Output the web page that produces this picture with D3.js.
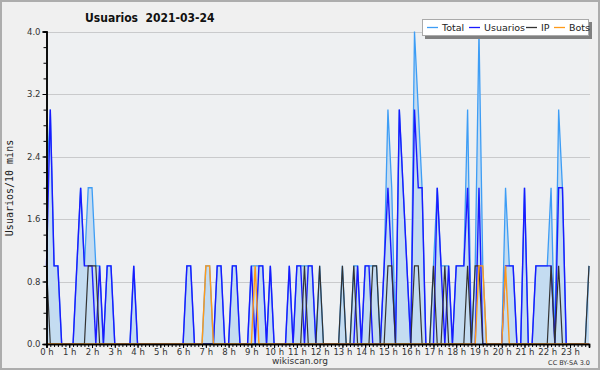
<!DOCTYPE html>
<html>
<head>
<meta charset="utf-8">
<script src="https://cdn.jsdelivr.net/npm/d3@7"></script>
<style>
  body { margin: 0; background: #f0f0f0; }
  svg { display: block; }
  text { font-family: "DejaVu Sans", sans-serif; }
</style>
</head>
<body>
<svg id="chart" width="600" height="370"></svg>
<script>
// 10-minute slots, 144 per day (rows of 12 = 2 hours)
const total = [
  2,3,1,1,0,0,0,0,1,2,1,2,
  2,1,1,0,1,1,0,0,0,0,0,1,
  0,0,0,0,0,0,0,0,0,0,0,0,
  0,1,1,0,0,0,1,1,0,1,1,0,
  0,1,1,0,0,0,1,1,1,1,0,1,
  0,0,0,0,1,0,1,1,1,1,1,0,
  1,0,0,0,0,0,1,0,0,1,1,0,
  1,1,1,1,0,1,3,2,0,3,2,1,
  0,4,3,2,0,0,1,2,1,1,1,0,
  1,1,1,3,0,1,4,1,0,0,0,0,
  0,2,1,1,0,0,2,0,0,1,1,1,
  1,2,0,3,2,0,0,0,0,0,0,1
];
const usuarios = [
  1,3,1,1,0,0,0,0,1,2,1,1,
  1,0,1,0,1,1,0,0,0,0,0,1,
  0,0,0,0,0,0,0,0,0,0,0,0,
  0,1,1,0,0,0,0,0,0,1,1,0,
  0,1,1,0,0,0,1,0,1,1,0,1,
  0,0,0,0,1,0,1,1,0,1,1,0,
  0,0,0,0,0,0,0,0,0,0,1,0,
  1,1,0,0,0,1,2,1,0,3,2,1,
  0,3,2,2,0,0,0,2,1,0,1,0,
  1,1,1,2,0,0,2,0,0,0,0,0,
  0,1,1,1,0,0,2,0,0,1,1,1,
  1,1,0,2,2,0,0,0,0,0,0,0
];
const ip = [
  1,0,0,0,0,0,0,0,0,0,0,1,
  1,1,0,0,0,0,0,0,0,0,0,0,
  0,0,0,0,0,0,0,0,0,0,0,0,
  0,0,0,0,0,0,0,0,0,0,0,0,
  0,0,0,0,0,0,0,0,0,0,0,0,
  0,0,0,0,0,0,0,0,1,0,0,0,
  1,0,0,0,0,0,1,0,0,1,0,0,
  0,0,1,1,0,0,1,1,0,0,0,0,
  0,1,1,0,0,0,1,0,0,1,0,0,
  0,0,0,1,0,1,1,0,0,0,0,0,
  0,0,0,0,0,0,0,0,0,0,0,0,
  0,1,0,1,0,0,0,0,0,0,0,1
];
const bots = [
  0,0,0,0,0,0,0,0,0,0,0,0,
  0,0,0,0,0,0,0,0,0,0,0,0,
  0,0,0,0,0,0,0,0,0,0,0,0,
  0,0,0,0,0,0,1,1,0,0,0,0,
  0,0,0,0,0,0,0,1,0,0,0,0,
  0,0,0,0,0,0,0,0,0,0,0,0,
  0,0,0,0,0,0,0,0,0,0,0,0,
  0,0,0,0,0,0,0,0,0,0,0,0,
  0,0,0,0,0,0,0,0,0,0,0,0,
  0,0,0,0,0,0,1,1,0,0,0,0,
  0,1,0,0,0,0,0,0,0,0,0,0,
  0,0,0,0,0,0,0,0,0,0,0,0
];
const hourLabels = ["0 h","1 h","2 h","3 h","4 h","5 h","6 h","7 h","8 h","9 h","10 h","11 h",
  "12 h","13 h","14 h","15 h","16 h","17 h","18 h","19 h","20 h","21 h","22 h","23 h"];
const yTicks = [0, 0.8, 1.6, 2.4, 3.2, 4.0];
const seriesNames = ["Total", "Usuarios", "IP", "Bots"];

const colors = { Total: "#3d9df5", Usuarios: "#1a1aff", IP: "#333333", Bots: "#ff9a1a" };

const svg = d3.select("#chart");
const plot = { left: 46.5, right: 589, top: 31.5, bottom: 344 };

const x = d3.scaleLinear([0, total.length - 1], [plot.left, plot.right]);
const y = d3.scaleLinear([0, 4], [plot.bottom, plot.top]);

// frame
svg.append("rect").attr("x", 1).attr("y", 1).attr("width", 598).attr("height", 368)
  .attr("fill", "#f0f0f0").attr("stroke", "#adadad").attr("stroke-width", 2);
svg.append("rect").attr("x", plot.left).attr("y", plot.top)
  .attr("width", plot.right - plot.left).attr("height", plot.bottom - plot.top)
  .attr("fill", "#eef0f2");

// grid
svg.append("g").selectAll("line")
  .data(yTicks.slice(1))
  .join("line")
  .attr("x1", plot.left).attr("x2", plot.right + 1)
  .attr("y1", d => Math.round(y(d)) + 0.5).attr("y2", d => Math.round(y(d)) + 0.5)
  .attr("stroke", "#c9cacc");

// series
const idx = d3.range(total.length);
svg.append("path")
  .datum(idx)
  .attr("fill", "#c4dcf1")
  .attr("d", d3.area().x(i => x(i)).y0(plot.bottom).y1(i => y(total[i])));

const line = arr => d3.line().x(i => x(i)).y(i => y(arr[i]))(idx);
svg.append("path").attr("d", line(total)).attr("fill", "none")
  .attr("stroke", colors.Total).attr("stroke-width", 1.3);
svg.append("path").attr("d", line(usuarios)).attr("fill", "none")
  .attr("stroke", colors.Usuarios).attr("stroke-width", 1.4);
svg.append("path").attr("d", line(ip)).attr("fill", "none")
  .attr("stroke", colors.IP).attr("stroke-width", 1.2);
svg.append("path").attr("d", line(bots)).attr("fill", "none")
  .attr("stroke", colors.Bots).attr("stroke-width", 1.4);

// y axis
const yMinor = svg.append("g").attr("transform", `translate(${plot.left},0)`)
  .call(d3.axisLeft(y).tickValues(d3.range(0, 4.01, 0.2)).tickSize(3).tickFormat(""));
const yAxis = svg.append("g").attr("transform", `translate(${plot.left},0)`)
  .call(d3.axisLeft(y).tickValues(yTicks).tickSize(4).tickPadding(2).tickFormat(d3.format(".1f")));
[yMinor, yAxis].forEach(g => {
  g.select(".domain").attr("stroke", "#000").attr("stroke-width", 1.5);
  g.selectAll(".tick line").attr("stroke", "#000");
});
yAxis.selectAll("text").attr("font-size", 8.5).attr("fill", "#333")
  .style("font-family", "DejaVu Sans, sans-serif");

// x axis
const xMinor = svg.append("g").attr("transform", `translate(0,${plot.bottom})`)
  .call(d3.axisBottom(x).tickValues(idx).tickSize(3).tickFormat(""));
const xAxis = svg.append("g").attr("transform", `translate(0,${plot.bottom})`)
  .call(d3.axisBottom(x).tickValues(d3.range(0, 144, 6)).tickSize(4).tickPadding(1)
    .tickFormat((d, i) => hourLabels[i]));
[xMinor, xAxis].forEach(g => {
  g.select(".domain").attr("stroke", "#000").attr("stroke-width", 1.5);
  g.selectAll(".tick line").attr("stroke", "#000");
});
xAxis.selectAll("text").attr("font-size", 8.5).attr("fill", "#333")
  .style("font-family", "DejaVu Sans, sans-serif");

// title
svg.append("text").attr("x", 85).attr("y", 22)
  .attr("font-size", 12).attr("font-weight", "bold").attr("fill", "#111")
  .style("font-family", "DejaVu Sans Condensed, DejaVu Sans, sans-serif")
  .attr("xml:space", "preserve")
  .text("Usuarios  2021-03-24");

// y label
svg.append("text").attr("transform", "translate(13,188) rotate(-90)")
  .attr("text-anchor", "middle").attr("font-size", 10).attr("fill", "#222")
  .style("font-family", "DejaVu Sans Mono, monospace")
  .text("Usuarios/10 mins");

// legend
const lg = svg.append("g");
lg.append("rect").attr("x", 425).attr("y", 22).attr("width", 167).attr("height", 17).attr("fill", "#808080");
lg.append("rect").attr("x", 422.5).attr("y", 19.5).attr("width", 166).attr("height", 16)
  .attr("fill", "#fff").attr("stroke", "#aaa");
const legendPos = [427, 469, 526, 554];
seriesNames.forEach((name, i) => {
  lg.append("line").attr("x1", legendPos[i]).attr("x2", legendPos[i] + 11)
    .attr("y1", 27.5).attr("y2", 27.5).attr("stroke", colors[name]).attr("stroke-width", 1.3);
  lg.append("text").attr("x", legendPos[i] + 15).attr("y", 31)
    .attr("font-size", 9.5).attr("fill", "#222").text(name);
});

// footer
svg.append("text").attr("x", 300).attr("y", 364).attr("text-anchor", "middle")
  .attr("font-size", 9).attr("fill", "#333").text("wikiscan.org");
svg.append("text").attr("x", 590).attr("y", 365).attr("text-anchor", "end")
  .attr("font-size", 6.5).attr("fill", "#333").text("CC BY-SA 3.0");
</script>
</body>
</html>
